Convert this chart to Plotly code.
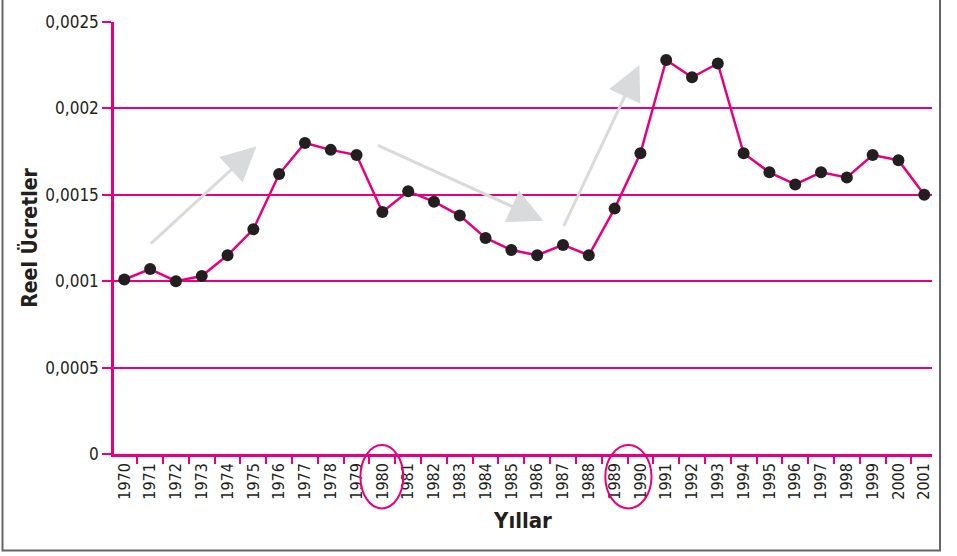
import plotly.graph_objects as go

years = [str(y) for y in range(1970, 2002)]
wages = [0.00101, 0.00107, 0.00100, 0.00103, 0.00115, 0.00130, 0.00162, 0.00180,
         0.00176, 0.00173, 0.00140, 0.00152, 0.00146, 0.00138, 0.00125, 0.00118,
         0.00115, 0.00121, 0.00115, 0.00142, 0.00174, 0.00228, 0.00218, 0.00226,
         0.00174, 0.00163, 0.00156, 0.00163, 0.00160, 0.00173, 0.00170, 0.00150]

y_ticks = [0, 0.0005, 0.001, 0.0015, 0.002, 0.0025]
y_ticktext = ["0", "0,0005", "0,001", "0,0015", "0,002", "0,0025"]
grid_vals = [0.0005, 0.001, 0.0015, 0.002]

# trend arrows: (start index, start value, end index, end value)
arrows = [(0.97, 0.00121, 5.12, 0.00178),
          (9.77, 0.00179, 16.24, 0.00135),
          (17.0, 0.00131, 19.96, 0.00225)]
# highlighted year labels (index range)
circled = [(9.15, 10.81), (18.64, 20.43)]

PINK = "#E6007E"
DARK = "#231F20"
FONT = "Liberation Sans Narrow, DejaVu Sans Condensed, Arial Narrow, sans-serif"

fig = go.Figure()
fig.add_trace(go.Scatter(x=years, y=[None] * len(years), yaxis="y", showlegend=False,
                         hoverinfo="skip", mode="lines"))
fig.add_trace(go.Scatter(
    x=years, y=wages, yaxis="y2", mode="lines+markers",
    line=dict(color=PINK, width=2.5),
    marker=dict(color=DARK, size=12),
    showlegend=False))

for x0, y0, x1, y1 in arrows:
    fig.add_annotation(x=x1, y=y1, ax=x0, ay=y0, xref="x", yref="y2",
                       axref="x", ayref="y2", text="", showarrow=True,
                       arrowhead=2, arrowsize=2.3, arrowwidth=3, arrowcolor="#D9DADB")

for x0, x1 in circled:
    fig.add_shape(type="circle", xref="x", yref="paper", x0=x0, x1=x1,
                  y0=-0.126, y1=0.0206, line=dict(color=PINK, width=2))

# outer frame
fig.add_shape(type="rect", xref="paper", yref="paper", x0=-0.1363, x1=1.0098,
              y0=-0.2231, y1=1.2, line=dict(color="#666666", width=2), layer="above")

fig.update_layout(
    width=957, height=556,
    margin=dict(l=114, r=25, t=17, b=102),
    paper_bgcolor="white", plot_bgcolor="white",
    font=dict(family=FONT, color=DARK, size=17),
    xaxis=dict(type="category", range=[-0.4, 31.3], tickangle=-90,
               tickson="boundaries", ticks="outside", ticklen=7, tickwidth=2,
               tickcolor=PINK, showline=True, linecolor=PINK, linewidth=2.5,
               showgrid=False, zeroline=False,
               tickfont=dict(family=FONT, size=16, color=DARK),
               title=dict(text="<b>Yıllar</b>", font=dict(family=FONT, size=22, color=DARK),
                          standoff=14)),
    yaxis=dict(range=[0, 0.0025], tickvals=grid_vals, showticklabels=False,
               ticks="", showgrid=True, gridcolor=PINK, gridwidth=2,
               zeroline=False, showline=False),
    yaxis2=dict(range=[0, 0.0025], overlaying="y", side="left",
                tickvals=y_ticks, ticktext=y_ticktext,
                ticks="outside", ticklen=9, tickwidth=2, tickcolor=PINK,
                showline=True, linecolor=PINK, linewidth=2.5,
                showgrid=False, zeroline=False,
                tickfont=dict(family=FONT, size=17, color=DARK),
                title=dict(text="<b>Reel Ücretler</b>",
                           font=dict(family=FONT, size=21, color=DARK), standoff=2)),
)

fig.write_html("out.html", config={"displayModeBar": False},
               post_script="document.body.style.margin='0';")
